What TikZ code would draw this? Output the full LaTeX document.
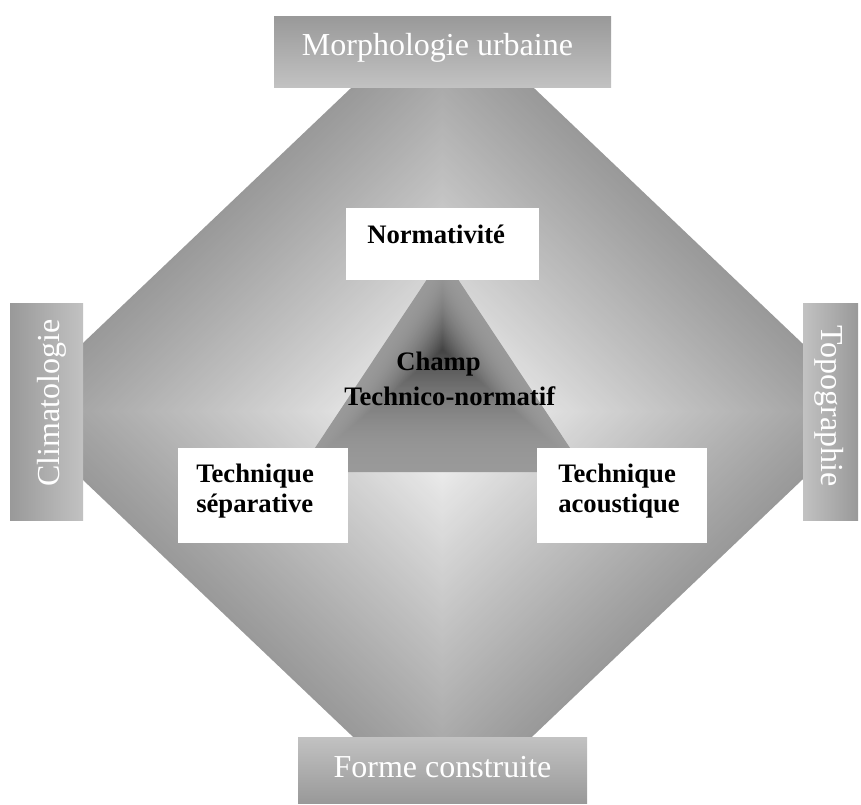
\documentclass[tikz,border=0pt]{standalone}
\usepackage{fontspec}
\setmainfont{Liberation Serif}
\definecolor{boxdark}{gray}{0.6}
\definecolor{boxlight}{gray}{0.76}
\begin{document}
\begin{tikzpicture}[x=0.75pt,y=-0.75pt,
  boxtext/.style={text=white,font=\fontsize{24}{28}\selectfont,inner sep=0pt},
  labtext/.style={text=black,font=\fontsize{20}{24}\selectfont\bfseries,inner sep=0pt,anchor=base west}]
\useasboundingbox (0,0) rectangle (861,804);
% big diamond with path gradient
\begin{scope}
\clip (83,88) rectangle (803,737);
\foreach \i in {120,119,...,1}{
  \pgfmathsetmacro\s{\i/120}
  \pgfmathsetmacro\v{1-0.4*\s^0.85}
  \definecolor{rhcol}{gray}{\v}
  \fill[rhcol,shift={(442.5,411.5)},scale=\s] (-431.5,0) -- (0,-410.5) -- (431.5,0) -- (0,410.5) -- cycle;
}
\end{scope}
% inner triangle
\foreach \i in {100,99,...,1}{
  \pgfmathsetmacro\s{\i/100}
  \pgfmathsetmacro\v{0.6-0.34*(1-\s)^2}
  \definecolor{trcol}{gray}{\v}
  \fill[trcol,shift={(442.5,350)},scale=\s] (0,-94) -- (-143.5,122) -- (143.5,122) -- cycle;
}
% white boxes
\fill[white] (345.7,208) rectangle (539,280);
\fill[white] (178,448) rectangle (348,543);
\fill[white] (537,448) rectangle (707,543);
% outer boxes
\shade[top color=boxdark,bottom color=boxlight] (274,16) rectangle (611,87);
\shade[top color=boxlight,bottom color=boxdark] (298,737) rectangle (587,803);
\shade[left color=boxdark,right color=boxlight] (10,303) rectangle (83,520);
\shade[left color=boxlight,right color=boxdark] (803,303) rectangle (858,520);
% texts
\node[boxtext,anchor=base] (morph) at (437.5,55) {Morphologie urbaine};
\node[boxtext,anchor=base] (forme) at (442.5,777) {Forme construite};
\node[boxtext,anchor=base,rotate=90] (clim) at (59,403) {Climatologie};
\node[boxtext,anchor=base,rotate=-90] (topo) at (821,406) {Topographie};
\node[labtext] (norm) at (367,243) {Normativité};
\node[labtext] (champ) at (396,370) {Champ};
\node[labtext] (tn) at (344,405) {Technico-normatif};
\node[labtext] (ts1) at (196,482) {Technique};
\node[labtext] (ts2) at (196,512) {séparative};
\node[labtext] (ta1) at (558,482) {Technique};
\node[labtext] (ta2) at (558,512) {acoustique};
\end{tikzpicture}
\end{document}
